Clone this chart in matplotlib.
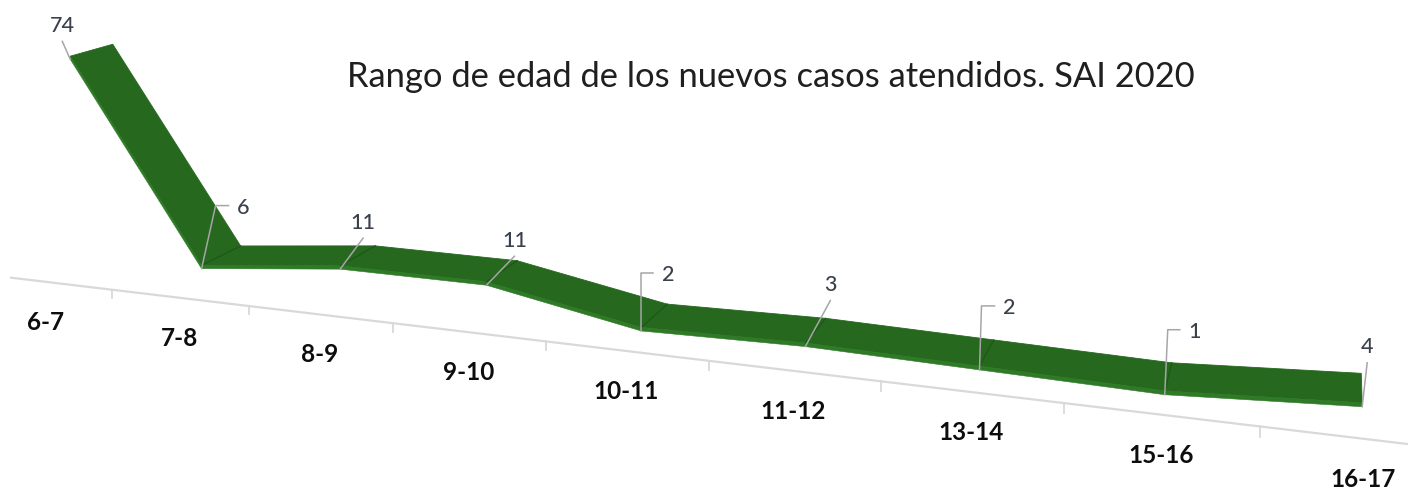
import numpy as np
import matplotlib
matplotlib.use('Agg')
import matplotlib.pyplot as plt
from matplotlib.patches import Polygon

plt.rcParams['font.family'] = ['Lato', 'DejaVu Sans']

categories = ['6-7', '7-8', '8-9', '9-10', '10-11', '11-12', '13-14', '15-16', '16-17']
cases = [74, 6, 11, 11, 2, 3, 2, 1, 4]
title = 'Rango de edad de los nuevos casos atendidos. SAI 2020'

# where each data label was dragged to (px right / px up from its point)
lab_dx = [-8, 42, 23, 28, 27, 25, 30, 30, 5]
lab_dy = [36, 63, 49, 47, 58, 64, 64, 65, 62]
lab_elbow = [False, True, False, False, True, False, True, True, False]
lab_knee = [0, 14, 0, 0, 0, 0, 2, 3, 0]

W, H = 1408, 489
TOP = '#25681e'
FRONT = '#2e7a27'
FOLD = '#1d5617'
LEADER = '#a6a6a6'
LABEL = '#3a404c'

# perspective camera, lengths in "cases" units
F = 1880.0                 # focal length, px
CX, CY = 704.0, -300.0     # principal point (horizon sits above the picture)
CAM_H = 200.0              # camera height over the floor
XC0, ZC0 = -221.6, 657.4   # camera-space position of the first category
STEP = 53.3                # distance between categories
YAW = np.arctan2(17.1, 50.5)
DEPTH = 24.0               # ribbon depth
THICK = 1.1                # ribbon thickness
AXIS_Z = -13.0             # floor axis sits in front of the ribbon


def project(i, y, z):
    i = np.asarray(i, float); y = np.asarray(y, float); z = np.asarray(z, float)
    xc = XC0 + i * STEP * np.cos(YAW) + z * np.sin(YAW)
    zc = ZC0 - i * STEP * np.sin(YAW) + z * np.cos(YAW)
    return CX + F * xc / zc, CY + F * (CAM_H - y) / zc


def pt(i, y, z):
    u, w = project(i, y, z)
    return (float(u), float(w))


fig = plt.figure(figsize=(W / 100, H / 100), dpi=100)
ax = fig.add_axes([0, 0, 1, 1])
ax.set_xlim(0, W); ax.set_ylim(H, 0)
ax.axis('off')

n = len(cases)
v = np.array(cases, float)

# floor axis + ticks
ends = project([-0.28, n - 0.5], [0, 0], [AXIS_Z, AXIS_Z])
ax.plot(*ends, color='#d9d9d9', lw=1.6, zorder=1, solid_capstyle='butt')
for j in np.arange(1, n + 1) - 0.5:
    tx, ty = project([j, j], [0, -2.8], [AXIS_Z, AXIS_Z])
    ax.plot(tx, ty, color='#d9d9d9', lw=1.3, zorder=1)

# category labels under the axis
for i, c in enumerate(categories):
    u, w = pt(i, 0, AXIS_Z)
    ax.text(u, w + 47, c, ha='center', va='baseline', fontsize=17.5,
            fontweight='bold', color='#0d0d0d')

# the 3D ribbon
for a in range(n - 1):
    b = a + 1
    top = [pt(a, v[a] + THICK, 0), pt(b, v[b] + THICK, 0),
           pt(b, v[b] + THICK, DEPTH), pt(a, v[a] + THICK, DEPTH)]
    front = [pt(a, v[a], 0), pt(b, v[b], 0),
             pt(b, v[b] + THICK, 0), pt(a, v[a] + THICK, 0)]
    ax.add_patch(Polygon(top, closed=True, fc=TOP, ec=TOP, lw=0.6, zorder=3))
    ax.add_patch(Polygon(front, closed=True, fc=FRONT, ec=FRONT, lw=0.4, zorder=4))
for i in range(1, n - 1):
    fx, fy = project([i, i], [v[i] + THICK] * 2, [0, DEPTH])
    ax.plot(fx, fy, color=FOLD, lw=0.8, zorder=5)

# data labels with leader lines
for i in range(n):
    px, py = pt(i, v[i], 0)
    lx, ly = px + lab_dx[i], py - lab_dy[i]
    if lab_elbow[i]:
        ax.plot([px, px + lab_knee[i], lx - 15], [py, ly, ly], color=LEADER, lw=1.1, zorder=6)
    else:
        ax.plot([px, lx], [py, ly + 18], color=LEADER, lw=1.1, zorder=6)
    ax.text(lx, ly + 7.5, str(cases[i]), ha='center', va='baseline', fontsize=15.5,
            fontweight='medium', color=LABEL, zorder=7)

# title, sized to the width it has in the original
t = ax.text(771, 87, title, ha='center', va='baseline', fontsize=24, color='#1f1f1f')
fig.canvas.draw()
bw = t.get_window_extent().width
t.set_fontsize(24 * 847 / bw)

fig.savefig('out.png', dpi=100)
